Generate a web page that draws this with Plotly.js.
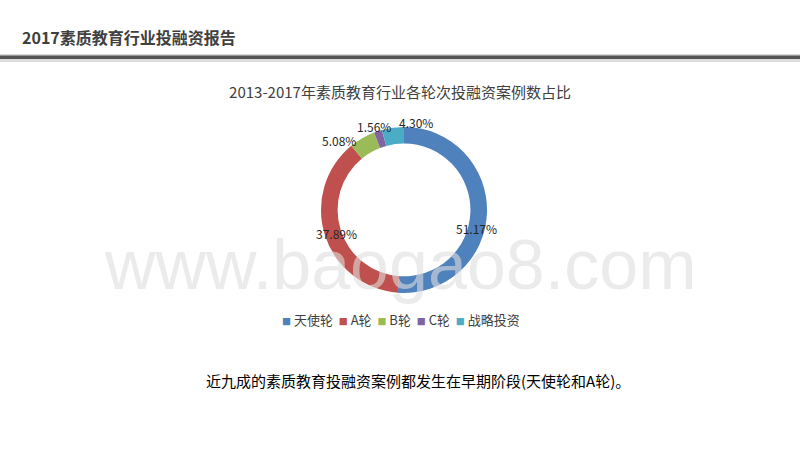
<!DOCTYPE html>
<html><head><meta charset="utf-8">
<script src="https://cdn.plot.ly/plotly-3.0.1.min.js"></script>
<style>html,body{margin:0;padding:0;background:#fff;}#chart{width:800px;height:450px;}</style>
</head><body><div id="chart"></div>
<script>
const categories = ['天使轮', 'A轮', 'B轮', 'C轮', '战略投资'];
const shares = [51.17, 37.89, 5.08, 1.56, 4.30];
const colors = ['#4F81BD', '#C0504D', '#9BBB59', '#8064A2', '#4BACC6'];
const headerText = '2017素质教育行业投融资报告';
const chartTitle = '2013-2017年素质教育行业各轮次投融资案例数占比';
const caption = '近九成的素质教育投融资案例都发生在早期阶段(天使轮和A轮)。';
const watermark = 'www.baogao8.com';

const font = '"Microsoft YaHei", "Noto Sans CJK SC", "Noto Sans", sans-serif';
const labelPos = [[0.595, 0.493], [0.42, 0.482], [0.424, 0.687], [0.468, 0.72], [0.52, 0.727]];

const traces = [{
  type: 'pie',
  labels: categories,
  values: shares,
  marker: {colors: colors, line: {width: 0}},
  hole: 0.8,
  sort: false,
  direction: 'clockwise',
  rotation: 0,
  textinfo: 'none',
  hoverinfo: 'label+percent',
  domain: {x: [0.401, 0.609], y: [0.349, 0.718]},
  showlegend: false
}];

const annotations = shares.map((v, i) => ({
  x: labelPos[i][0], y: labelPos[i][1], xref: 'paper', yref: 'paper',
  xanchor: 'center', yanchor: 'middle',
  text: v.toFixed(2) + '%', showarrow: false,
  font: {family: font, size: 12, color: '#262626'}
}));
annotations.push({
  x: 0.5, y: 0.411, xref: 'paper', yref: 'paper', yanchor: 'middle', text: watermark, showarrow: false,
  font: {family: 'Arial, "Liberation Sans", sans-serif', size: 70, color: 'rgba(222,222,222,0.6)'}
});
annotations.push({
  x: 0.025, y: 0.918, xref: 'paper', yref: 'paper', xanchor: 'left', yanchor: 'middle',
  text: '<b>' + headerText + '</b>', showarrow: false,
  font: {family: font, size: 16, color: '#404040'}
});
annotations.push({
  x: 0.522, y: 0.155, xref: 'paper', yref: 'paper', yanchor: 'middle', text: caption, showarrow: false,
  font: {family: font, size: 15, color: '#000000'}
});
// legend row built from categories and colors
const legendText = categories.map((c, i) =>
  '<span style="color:' + colors[i] + ';font-size:9px">■</span> ' + c).join('  ');
annotations.push({
  x: 0.501, y: 0.289, xref: 'paper', yref: 'paper', yanchor: 'middle', text: legendText, showarrow: false,
  font: {family: font, size: 13, color: '#404040'}
});

const layout = {
  width: 800, height: 450,
  margin: {l: 0, r: 0, t: 0, b: 0, autoexpand: false},
  paper_bgcolor: '#ffffff',
  showlegend: false,
  title: {text: chartTitle, x: 0.5, xanchor: 'center', y: 0.793, yanchor: 'middle',
          font: {family: font, size: 15, color: '#404040'}},
  annotations: annotations,
  shapes: [
    {type: 'line', xref: 'paper', yref: 'paper', x0: 0, x1: 1, y0: 0.871, y1: 0.871,
     line: {color: '#dcdcdc', width: 8}},
    {type: 'line', xref: 'paper', yref: 'paper', x0: 0, x1: 1, y0: 0.873, y1: 0.873,
     line: {color: '#555555', width: 3.5}}
  ]
};

Plotly.newPlot('chart', traces, layout, {displayModeBar: false, staticPlot: true});
</script>
</body></html>
